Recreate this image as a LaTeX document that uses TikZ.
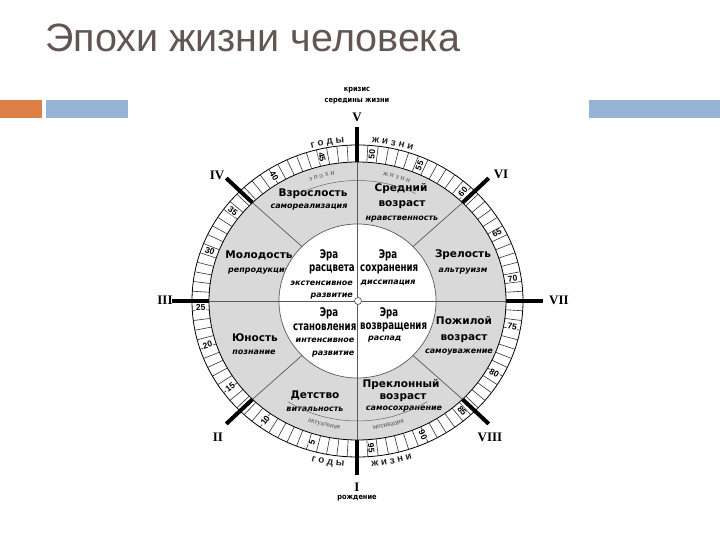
\documentclass[tikz,border=0pt]{standalone}
\usepackage{fontspec}
\usepackage{graphicx}
\setmainfont{Liberation Sans}
\newfontfamily\dvfont{DejaVu Sans}
\newfontfamily\romfont{Liberation Serif}
\newcommand\sqzera[1]{\scalebox{0.72}[1]{#1}}
\newcommand\sqzsmall[1]{\scalebox{0.88}[1]{#1}}
\usetikzlibrary{decorations.text}
\definecolor{titlec}{RGB}{98,86,82}
\definecolor{orangebar}{RGB}{221,128,71}
\definecolor{bluebar}{RGB}{149,179,215}
\definecolor{sectgray}{RGB}{217,217,217}
\def\RXo{165.5}\def\RYo{156}
\def\RXi{148.5}\def\RYi{139}
\def\RXc{78.5}\def\RYc{77}
\def\RXs{185.6}\def\RYs{173.8}
\begin{document}
\begin{tikzpicture}[x=1pt,y=1pt,
  numlab/.style={font=\bfseries\fontsize{8.5}{8.5}\selectfont, inner sep=0.4pt, fill=white},
  secttxt/.style={font=\dvfont\bfseries\fontsize{10.5}{12}\selectfont, inner sep=0pt},
  sectit/.style={font=\dvfont\bfseries\itshape\fontsize{8}{9}\selectfont, inner sep=0pt},
  eratxt/.style={font=\dvfont\bfseries\fontsize{12}{12}\selectfont, inner sep=0pt},
  erait/.style={font=\dvfont\bfseries\itshape\fontsize{8}{9}\selectfont, inner sep=0pt},
  romtxt/.style={font=\romfont\bfseries\fontsize{13}{13}\selectfont, inner sep=0pt},
  smalltxt/.style={font=\dvfont\bfseries\fontsize{7.5}{8}\selectfont, inner sep=0pt},
  spoke/.style={line width=4pt, line cap=butt},
  divl/.style={line width=0.6pt, draw=black!80},
  sepl/.style={line width=0.7pt, draw=black!65}]
\useasboundingbox (-357.5,-239) rectangle (362.5,301);
% title and bars
\node[anchor=base west, inner sep=0pt, font=\fontsize{39.5}{48}\selectfont, text=titlec] (title) at (-312.5,249) {Эпохи жизни человека};
\fill[orangebar] (-357.5,183) rectangle (-315.5,201);
\fill[bluebar] (-311.5,183) rectangle (-229.5,201);
\fill[bluebar] (231.5,183) rectangle (362.5,201);
% rings
\draw[line width=0.8pt, fill=white] (0,0) ellipse [x radius=\RXo, y radius=\RYo];
\draw[line width=0.8pt, fill=sectgray] (0,0) ellipse [x radius=\RXi, y radius=\RYi];
\foreach \k in {0,...,99}{
  \pgfmathsetmacro\t{270-3.6*\k}
  \draw[divl] ({\RXi*cos(\t)},{\RYi*sin(\t)}) -- ({\RXo*cos(\t)},{\RYo*sin(\t)});
}
% sector texts
\node[secttxt] (s1) at (-44.5,107) {Взрослость};
\node[sectit] (s1b) at (-48.5,94) {самореализация};
\node[secttxt] (s2) at (43.5,112) {Средний};
\node[secttxt] (s2b) at (44.5,96) {возраст};
\node[sectit] (s2c) at (44.5,82) {нравственность};
\node[secttxt] (s3) at (105.5,46) {Зрелость};
\node[sectit] (s3b) at (105.5,30) {альтруизм};
\node[secttxt] (s4) at (106.5,-20) {Пожилой};
\node[secttxt] (s4b) at (106.5,-38) {возраст};
\node[sectit] (s4c) at (101.5,-51) {самоуважение};
\node[secttxt] (s5) at (43.5,-84) {Преклонный};
\node[secttxt] (s5b) at (45.5,-97) {возраст};
\node[sectit] (s5c) at (46.5,-108) {самосохранение};
\node[secttxt] (s6) at (-42.5,-94) {Детство};
\node[sectit] (s6b) at (-42.5,-108) {витальность};
\node[secttxt] (s7) at (-102.5,-37) {Юность};
\node[sectit] (s7b) at (-103.5,-51) {познание};
\node[secttxt] (s8) at (-98.5,46) {Молодость};
\node[sectit] (s8b) at (-98.5,30) {репродукция};
% inner circle
\draw[sepl, fill=white] (0,0) ellipse [x radius=\RXc, y radius=\RYc];
\foreach \t in {45,135,225,315}{
  \draw[sepl] ({\RXc*cos(\t)},{\RYc*sin(\t)}) -- ({\RXi*cos(\t)},{\RYi*sin(\t)});
}
\draw[sepl] (-\RXi,0) -- (\RXi,0);
\draw[sepl] (0,-\RYi) -- (0,\RYi);
\draw[sepl, fill=white] (0.5,0) circle (3.5);
% arcs in the band
\draw[line width=0.5pt, draw=black!60] (63:128 and 120.5) arc[start angle=63, end angle=117, x radius=128, y radius=120.5];
\draw[line width=0.5pt, draw=black!60] (237:128 and 120) arc[start angle=237, end angle=303, x radius=128, y radius=120];
\path[decorate, decoration={text along path, text align=center,
  text={|\romfont\fontsize{7.5}{7.5}\selectfont\color{black!70}|э п о х и}}]
  (125:135 and 128) arc[start angle=125, end angle=85.6, x radius=135, y radius=128];
\path[decorate, decoration={text along path, text align=center,
  text={|\romfont\fontsize{7.5}{7.5}\selectfont\color{black!70}|ж и з н и}}]
  (93.2:135 and 128) arc[start angle=93.2, end angle=53.2, x radius=135, y radius=128];
\path[decorate, decoration={text along path, text align=center,
  text={|\romfont\fontsize{7}{7}\selectfont\color{black!70}|актуальная}}]
  (235.6:137 and 129) arc[start angle=235.6, end angle=275.6, x radius=137, y radius=129];
\path[decorate, decoration={text along path, text align=center,
  text={|\romfont\fontsize{7}{7}\selectfont\color{black!70}|мотивация}}]
  (263.3:137 and 129) arc[start angle=263.3, end angle=303.3, x radius=137, y radius=129];
% outer words
\path[decorate, decoration={text along path, text align=center,
  text={|\bfseries\fontsize{10}{10}\selectfont\color{black!85}|г о д ы}}]
  (120.2:169 and 159) arc[start angle=120.2, end angle=80.2, x radius=169, y radius=159];
\path[decorate, decoration={text along path, text align=center,
  text={|\bfseries\fontsize{10}{10}\selectfont\color{black!85}|ж и з н и}}]
  (98:169 and 159) arc[start angle=98, end angle=58, x radius=169, y radius=159];
\path[decorate, decoration={text along path, text align=center,
  text={|\bfseries\fontsize{10}{10}\selectfont\color{black!85}|г о д ы}}]
  (240.2:177 and 166) arc[start angle=240.2, end angle=280.2, x radius=177, y radius=166];
\path[decorate, decoration={text along path, text align=center,
  text={|\bfseries\fontsize{10}{10}\selectfont\color{black!85}|ж и з н и}}]
  (261.4:177 and 166) arc[start angle=261.4, end angle=301.4, x radius=177, y radius=166];
% number labels
\foreach \n/\a in {5/253.2,10/234,15/215.8,20/197.3,25/182.6,30/160.2,35/142.6,40/122.1,45/103.1,50/84.7,55/66.7,60/47.8,65/27.4,70/8.8,75/-9.9,80/-29.4,85/-48.2,90/-65.3,95/-85}{
  \pgfmathsetmacro\rot{\a>90 ? \a-180 : \a}
  \node[numlab, rotate=\rot] (n\n) at (\a:157 and 147.5) {\n};
}
% era texts
\node[eratxt] (e1) at (-28.5,46) {\sqzera{Эра}};
\node[eratxt, anchor=east] (e1b) at (-2.5,32) {\sqzera{расцвета}};
\node[erait, anchor=east] (e1c) at (-4.5,18) {экстенсивное};
\node[erait, anchor=east] (e1d) at (-4.5,5) {развитие};
\node[eratxt] (e2) at (30.5,46) {\sqzera{Эра}};
\node[eratxt, anchor=west] (e2b) at (2.5,32) {\sqzera{сохранения}};
\node[erait, anchor=west] (e2c) at (3,18) {диссипация};
\node[eratxt] (e3) at (-28.5,-12) {\sqzera{Эра}};
\node[eratxt, anchor=east] (e3b) at (-1,-26) {\sqzera{становления}};
\node[erait, anchor=east] (e3c) at (-3,-39) {интенсивное};
\node[erait, anchor=east] (e3d) at (-3,-53) {развитие};
\node[eratxt] (e4) at (31.5,-12) {\sqzera{Эра}};
\node[eratxt, anchor=west] (e4b) at (2.5,-26) {\sqzera{возвращения}};
\node[erait, anchor=west] (e4c) at (10.5,-38) {распад};
% spokes
\foreach \t in {270,225,180,135,90,45,0,315}{
  \draw[spoke] ({\RXi*cos(\t)},{\RYi*sin(\t)}) -- ({\RXs*cos(\t)},{\RYs*sin(\t)});
}
\node[romtxt] (rV) at (-0.5,184) {V};
\node[smalltxt] (kr1) at (-0.5,211) {\sqzsmall{кризис}};
\node[smalltxt] (kr2) at (-0.5,200) {\sqzsmall{середины жизни}};
\node[romtxt] (rI) at (-0.5,-186) {I};
\node[smalltxt] (rozh) at (-0.5,-197) {\sqzsmall{рождение}};
\node[romtxt] (rVI) at (143.5,127) {VI};
\node[romtxt] (rIV) at (-140.5,126) {IV};
\node[romtxt] (rIII) at (-192.5,1) {III};
\node[romtxt] (rVII) at (201.5,1) {VII};
\node[romtxt] (rII) at (-139.5,-136) {II};
\node[romtxt] (rVIII) at (132.5,-136) {VIII};
\end{tikzpicture}
\end{document}
